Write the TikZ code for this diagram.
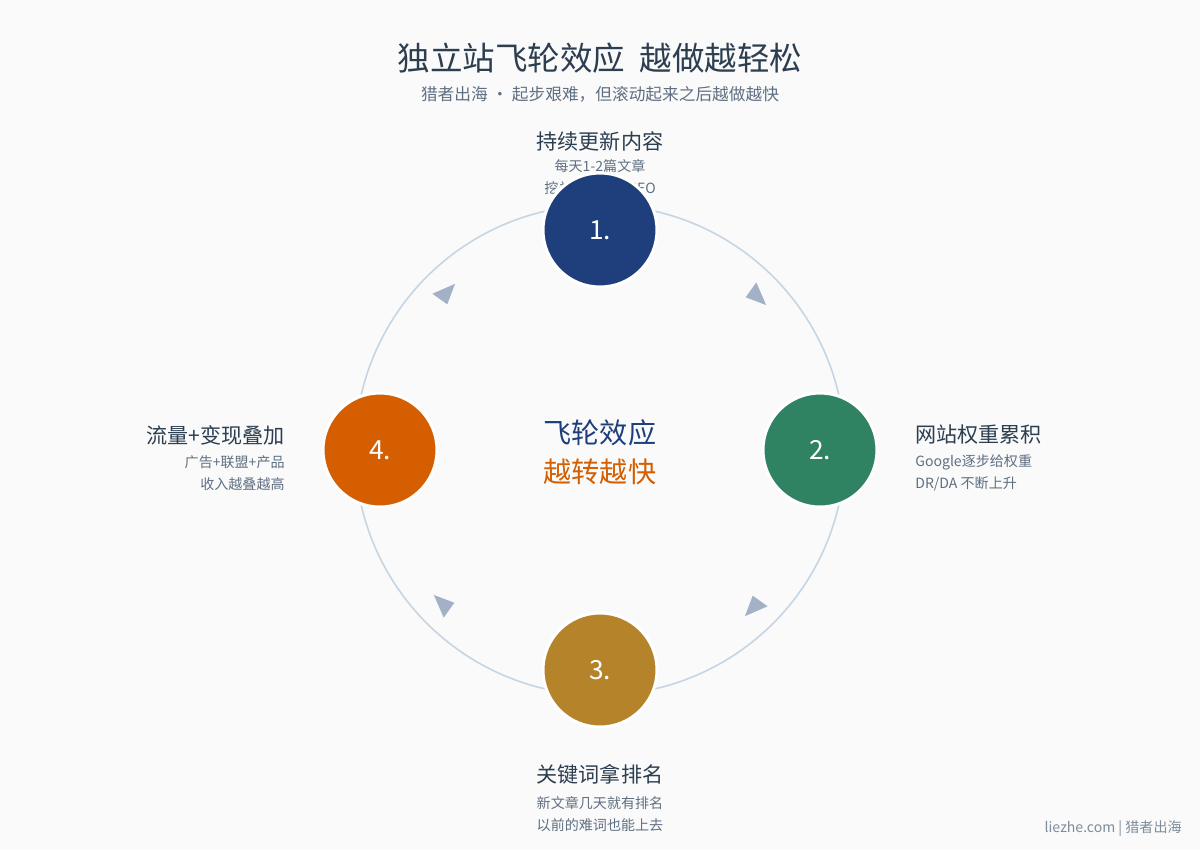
\documentclass[tikz,border=0pt]{standalone}
\usepackage{fontspec}
\setmainfont{Noto Sans CJK SC}
\usetikzlibrary{arrows.meta}
\definecolor{bgcol}{HTML}{FAFAFA}
\definecolor{ringcol}{HTML}{C5D5E4}
\definecolor{darktxt}{HTML}{2C3E50}
\definecolor{subtxt}{HTML}{5F6F82}
\definecolor{stepblue}{HTML}{1E3F7B}
\definecolor{stepgreen}{HTML}{2F8262}
\definecolor{stepgold}{HTML}{B5832A}
\definecolor{steporange}{HTML}{D45E00}
\definecolor{arrowcol}{HTML}{A2B1C6}
\tikzset{
  stage/.style={circle, minimum size=2.28cm, draw=white, line width=1.7pt, text=white, font=\fontsize{15}{15}\selectfont, inner sep=0},
  head/.style={text=darktxt, font=\fontsize{12}{14}\selectfont, inner sep=0},
  note/.style={text=subtxt, font=\fontsize{8}{10}\selectfont, inner sep=0},
  flyarrow/.style={fill=arrowcol}
}
\begin{document}
\begin{tikzpicture}[x=0.02cm, y=0.02cm]

    \fill[bgcol] (-600,-400) rectangle (600,450);
    \useasboundingbox (-600,-400) rectangle (600,450);

    % title
    \node[head, font=\fontsize{18.5}{20}\selectfont] (title) at (0,392) {独立站飞轮效应\ \ 越做越轻松};
    \node[note, font=\fontsize{9.5}{11}\selectfont] (subtitle) at (0,356) {猎者出海 · 起步艰难，但滚动起来之后越做越快};

    % ring and arrows
    \draw[ringcol, line width=0.9pt] (0,0) circle (245);
    \foreach \a in {45,135,225,315}
        \fill[flyarrow, shift={(\a:220)}, rotate=\a] (0,-15) -- (9,8) -- (-9,5) -- cycle;

    % labels
    \node[head] (t1) at (0,309) {持续更新内容};
    \node[note] (t1a) at (0,284) {每天1-2篇文章};
    \node[note] (t1b) at (0,262) {挖关键词、做SEO};

    \node[head, anchor=west] (t2) at (315,15) {网站权重累积};
    \node[note, anchor=west] (t2a) at (315,-12) {Google逐步给权重};
    \node[note, anchor=west] (t2b) at (315,-34) {DR/DA 不断上升};

    \node[head] (t3) at (0,-324) {关键词拿排名};
    \node[note] (t3a) at (0,-353) {新文章几天就有排名};
    \node[note] (t3b) at (0,-375) {以前的难词也能上去};

    \node[head, anchor=east] (t4) at (-315,15) {流量+变现叠加};
    \node[note, anchor=east] (t4a) at (-315,-12) {广告+联盟+产品};
    \node[note, anchor=east] (t4b) at (-315,-34) {收入越叠越高};

    % stages
    \node[stage, fill=stepblue] (s1) at (90:220) {1.};
    \node[stage, fill=stepgreen] (s2) at (0:220) {2.};
    \node[stage, fill=stepgold] (s3) at (270:220) {3.};
    \node[stage, fill=steporange] (s4) at (180:220) {4.};

    % centre
    \node[head, text=stepblue, font=\fontsize{16}{18}\selectfont] (c1) at (0,17) {飞轮效应};
    \node[head, text=steporange, font=\fontsize{16}{18}\selectfont] (c2) at (0,-22) {越转越快};

    \node[note, text=subtxt!80, anchor=east] (foot) at (582,-379) {liezhe.com | 猎者出海};

\end{tikzpicture}
\end{document}
